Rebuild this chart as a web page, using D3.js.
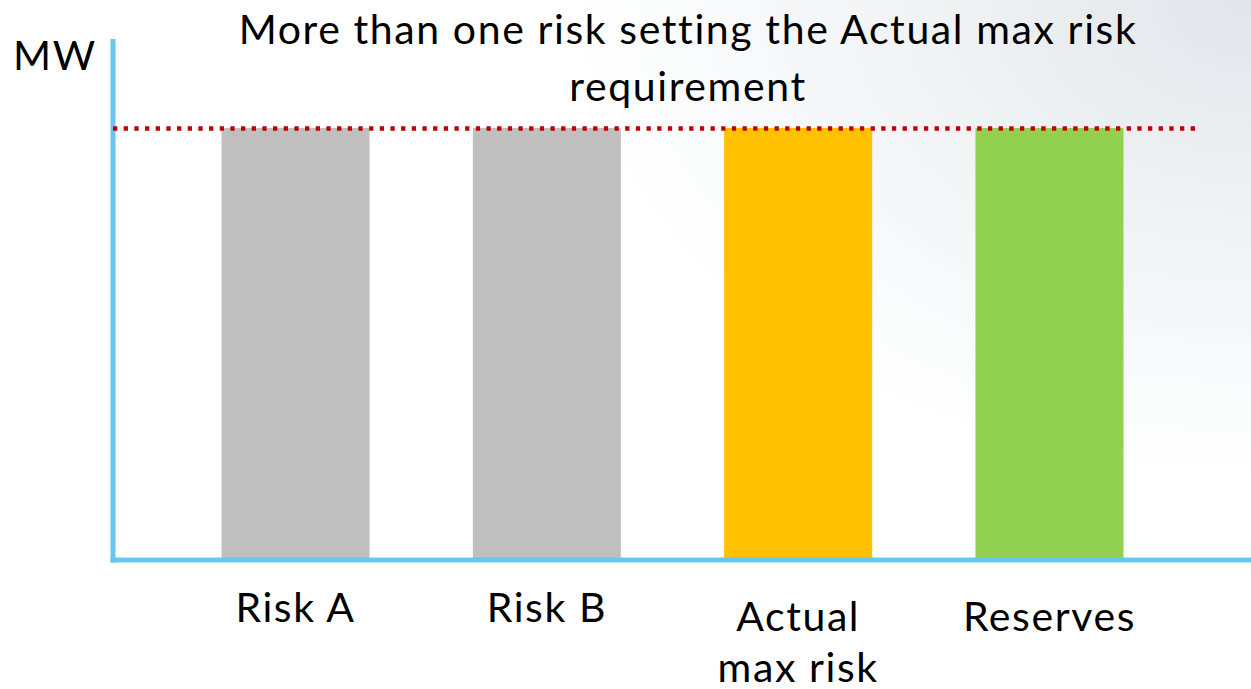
<!DOCTYPE html>
<html>
<head>
<meta charset="utf-8">
<script src="https://cdn.jsdelivr.net/npm/d3@7"></script>
<style>
  html, body { margin: 0; padding: 0; background: #fff; }
  svg { display: block; }
  text { font-family: Lato, "Open Sans", sans-serif; fill: #000; letter-spacing: 1.6px; }
</style>
</head>
<body>
<svg id="chart" width="1251" height="689"></svg>
<script>
// Categories and their bar values (MW, all equal to the max risk requirement)
const categories = ["Risk A", "Risk B", "Actual max risk", "Reserves"];
const labelLines = [["Risk A"], ["Risk B"], ["Actual", "max risk"], ["Reserves"]];
const values = [100, 100, 100, 100];
const requirement = [100];
const barColors = ["#bfbfbf", "#bfbfbf", "#ffc000", "#92d050"];
const titleLines = ["More than one risk setting the Actual max risk", "requirement"];
const yAxisLabel = ["MW"];

const W = 1251, H = 689;
const svg = d3.select("#chart");

// Soft grey haze in the top-right corner of the slide background
const defs = svg.append("defs");
const grad = defs.append("radialGradient")
  .attr("id", "bg").attr("gradientUnits", "userSpaceOnUse")
  .attr("cx", W).attr("cy", 0).attr("r", 680)
  .attr("gradientTransform", `translate(${W},0) scale(1,0.7) translate(${-W},0)`);
grad.append("stop").attr("offset", 0).attr("stop-color", "#e2e6ea");
grad.append("stop").attr("offset", 0.5).attr("stop-color", "#f1f3f5");
grad.append("stop").attr("offset", 1).attr("stop-color", "#ffffff");
svg.append("rect").attr("width", W).attr("height", H).attr("fill", "url(#bg)");

const axisX = 113, baseY = 560, axisTop = 39;

const x = d3.scaleBand()
  .domain(categories)
  .range([121, 1224])
  .paddingInner(0.411)
  .paddingOuter(0.4);

const y = d3.scaleLinear()
  .domain([0, 100])
  .range([baseY, 128]);

// Bars
svg.append("g").selectAll("rect")
  .data(categories)
  .join("rect")
  .attr("x", d => x(d))
  .attr("width", x.bandwidth())
  .attr("y", (d, i) => y(values[i]))
  .attr("height", (d, i) => y(0) - y(values[i]))
  .attr("fill", (d, i) => barColors[i]);

// Axes drawn as plain lines
svg.append("line")
  .attr("x1", axisX).attr("x2", axisX)
  .attr("y1", axisTop).attr("y2", baseY + 2.5)
  .attr("stroke", "#66c7f0").attr("stroke-width", 5);
svg.append("line")
  .attr("x1", axisX - 2.5).attr("x2", W)
  .attr("y1", baseY).attr("y2", baseY)
  .attr("stroke", "#66c7f0").attr("stroke-width", 5);

// Max risk requirement line
svg.append("g").selectAll("line")
  .data(requirement)
  .join("line")
  .attr("x1", axisX).attr("x2", 1195)
  .attr("y1", d => y(d) + 0.5).attr("y2", d => y(d) + 0.5)
  .attr("stroke", "#c00000").attr("stroke-width", 4.5)
  .attr("stroke-dasharray", "4.3 6.37");

// Category labels
const lab = svg.append("g").selectAll("text")
  .data(categories)
  .join("text")
  .attr("text-anchor", "middle")
  .attr("font-size", 41)
  .attr("transform", (d, i) => {
    const cx = x(d) + x.bandwidth() / 2;
    const by = (labelLines[i].length > 1 || i === 3) ? 631 : 622;
    return `translate(${cx},${by})`;
  });
lab.selectAll("tspan")
  .data((d, i) => labelLines[i])
  .join("tspan")
  .attr("x", 0)
  .attr("dy", (d, j) => j === 0 ? 0 : 51)
  .text(d => d);

// Title
svg.append("g").selectAll("text")
  .data(titleLines)
  .join("text")
  .attr("x", 688)
  .attr("y", (d, i) => 44 + i * 57)
  .attr("text-anchor", "middle")
  .attr("font-size", 41)
  .text(d => d);

// Y axis unit
svg.append("text")
  .attr("x", 13).attr("y", 70)
  .attr("font-size", 41)
  .text(yAxisLabel[0]);
</script>
</body>
</html>
